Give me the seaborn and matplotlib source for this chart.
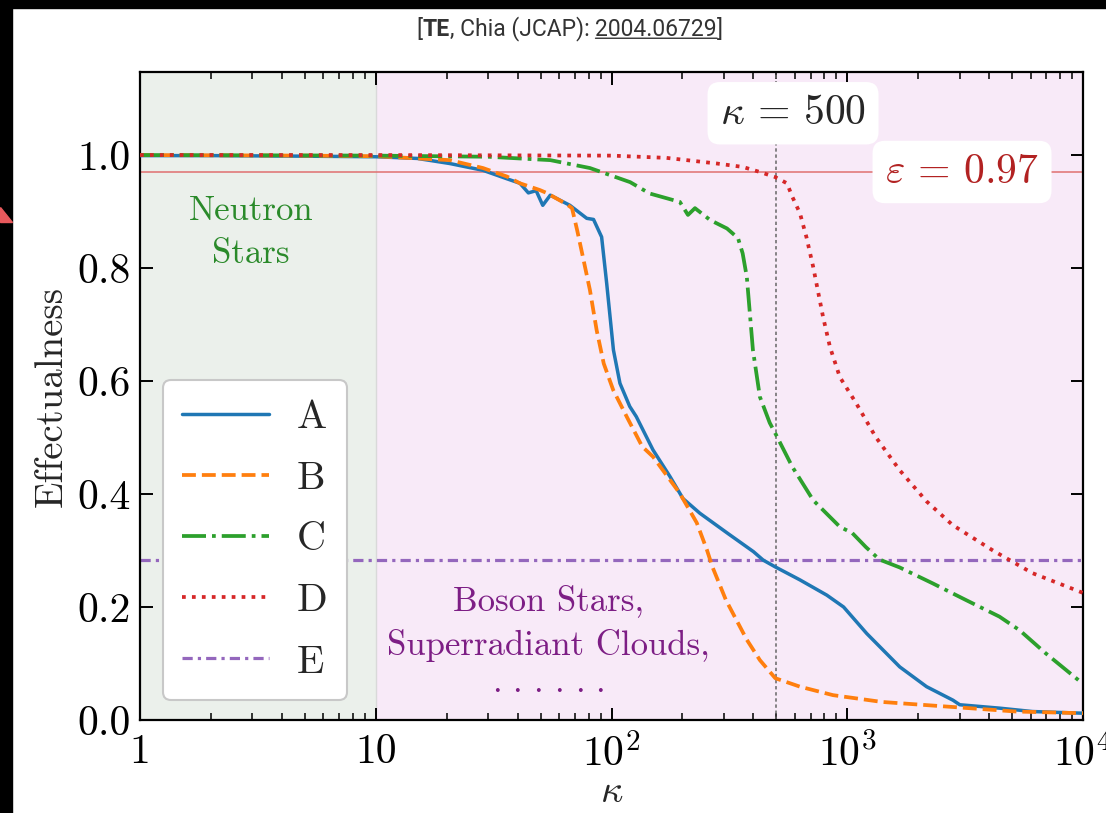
import matplotlib
matplotlib.use("Agg")
import matplotlib.pyplot as plt
import seaborn as sns
from matplotlib.patches import Rectangle, Polygon
from matplotlib.ticker import LogLocator, NullFormatter, FixedLocator, FixedFormatter

# ---- data -----------------------------------------------------------------
A_k = [1, 2, 5, 10, 15, 20.6, 28.5, 36, 40.9, 44.4, 47.9, 51.1, 55, 66.6, 78.5,
       83.9, 90.8, 95.4, 101.9, 108.6, 119.5, 127.4, 150, 177, 201, 237, 312,
       400, 440, 495, 630, 819, 965, 1210, 1670, 2170, 2810, 3000, 4420, 6100, 10000]
A_eff = [0.999, 0.999, 0.998, 0.997, 0.994, 0.985, 0.973, 0.958, 0.950, 0.933, 0.937,
         0.911, 0.929, 0.911, 0.888, 0.886, 0.855, 0.773, 0.655, 0.596, 0.555, 0.537,
         0.478, 0.431, 0.392, 0.366, 0.330, 0.298, 0.283, 0.271, 0.248, 0.221, 0.200,
         0.153, 0.094, 0.059, 0.035, 0.027, 0.021, 0.015, 0.012]

B_k = [1, 5, 10, 20.6, 28.5, 36, 40.9, 49.7, 53, 64.5, 68, 71.5, 75.6, 81, 86.5,
       92.7, 101.7, 116, 135, 150, 195, 230, 254, 268, 306, 375, 426, 495, 630,
       870, 1400, 2810, 5200, 10000]
B_eff = [1.0, 0.999, 0.998, 0.991, 0.977, 0.962, 0.950, 0.938, 0.933, 0.913, 0.906,
         0.867, 0.820, 0.761, 0.690, 0.631, 0.584, 0.537, 0.484, 0.466, 0.401, 0.349,
         0.301, 0.271, 0.212, 0.142, 0.106, 0.074, 0.059, 0.044, 0.032, 0.023, 0.015,
         0.012]

C_k = [1, 10, 30, 55, 81, 120, 145, 195, 211, 226, 262, 309, 344, 360, 375, 398,
       426, 469, 500, 585, 717, 930, 1050, 1200, 1370, 1670, 2300, 3200, 4420, 5380,
       6950, 10000]
C_eff = [1.0, 0.999, 0.997, 0.991, 0.977, 0.952, 0.932, 0.917, 0.894, 0.906, 0.885,
         0.870, 0.853, 0.826, 0.784, 0.655, 0.572, 0.526, 0.504, 0.448, 0.389, 0.342,
         0.331, 0.306, 0.284, 0.270, 0.242, 0.212, 0.183, 0.159, 0.118, 0.064]

D_k = [1, 10, 100, 171, 280, 360, 426, 495, 555, 585, 630, 671, 717, 740, 790, 845,
       930, 1090, 1320, 1670, 2170, 2800, 4150, 6100, 10000]
D_eff = [1.0, 1.0, 0.999, 0.995, 0.985, 0.979, 0.970, 0.961, 0.950, 0.926, 0.897,
         0.855, 0.802, 0.773, 0.713, 0.660, 0.607, 0.561, 0.501, 0.442, 0.387, 0.345,
         0.300, 0.260, 0.225]

E_level = 0.283
eps_threshold = 0.97
kappa_mark = 500

series_labels = ["A", "B", "C", "D", "E"]
x_tick_values = [1, 10, 100, 1000, 10000]
x_tick_labels = ["1", "10", "$10^2$", "$10^3$", "$10^4$"]
y_tick_values = [0.0, 0.2, 0.4, 0.6, 0.8, 1.0]
y_tick_labels = ["0.0", "0.2", "0.4", "0.6", "0.8", "1.0"]

# ---- style ----------------------------------------------------------------
sns.set_theme(style="ticks")
plt.rcParams.update({
    "font.family": "serif",
    "font.serif": ["cmr10"],
    "mathtext.fontset": "cm",
    "axes.formatter.use_mathtext": True,
    "axes.linewidth": 1.6,
    "axes.edgecolor": "black",
    "xtick.direction": "in",
    "ytick.direction": "in",
    "xtick.top": True,
    "ytick.right": True,
    "xtick.color": "black",
    "ytick.color": "black",
})

W, H = 1106, 813
fig = plt.figure(figsize=(W / 100, H / 100), dpi=100)
fig.patch.set_facecolor("white")
ax = fig.add_axes([140 / W, 93 / H, 943 / W, 648 / H])
ax.set_xscale("log")

# shaded regions
ax.axvspan(1, 10, color="#ebf0eb", lw=0, zorder=0)
ax.axvspan(10, 1e4, color="#f8eaf8", lw=0, zorder=0)
ax.axvline(10, color="#d9d9d9", lw=1.0, zorder=0.5)

# reference lines
ax.axhline(eps_threshold, color="#e07070", lw=1.1, zorder=1)
ax.axvline(kappa_mark, color="#666666", lw=1.1, ls=(0, (2.2, 1.8)), zorder=1)

sns.lineplot(x=A_k, y=A_eff, ax=ax, color="#1f77b4", lw=2.5, label=series_labels[0], zorder=3)
sns.lineplot(x=B_k, y=B_eff, ax=ax, color="#ff7f0e", lw=2.7, linestyle="--", label=series_labels[1], zorder=3)
sns.lineplot(x=C_k, y=C_eff, ax=ax, color="#2ca02c", lw=2.7, linestyle="-.", label=series_labels[2], zorder=3)
sns.lineplot(x=D_k, y=D_eff, ax=ax, color="#d62728", lw=2.7, linestyle=":", label=series_labels[3], zorder=3)
ax.axhline(E_level, color="#9467bd", lw=2.3, ls=(0, (3.2, 1.6, 1, 1.6)), label=series_labels[4], zorder=2)

ax.set_xlim(1, 1e4)
ax.set_ylim(0, 1.147)

ax.xaxis.set_major_locator(FixedLocator(x_tick_values))
ax.xaxis.set_major_formatter(FixedFormatter(x_tick_labels))
ax.xaxis.set_minor_locator(LogLocator(base=10, subs=range(2, 10), numticks=20))
ax.xaxis.set_minor_formatter(NullFormatter())
ax.yaxis.set_major_locator(FixedLocator(y_tick_values))
ax.yaxis.set_major_formatter(FixedFormatter(y_tick_labels))
ax.tick_params(which="major", length=9, width=1.4, labelsize=30)
ax.tick_params(axis="x", which="major", pad=10)
ax.tick_params(axis="y", which="major", pad=7)
ax.tick_params(which="minor", length=5, width=1.1)
for s in ax.spines.values():
    s.set_linewidth(1.6)

ax.set_xlabel(r"$\kappa$", fontsize=28, labelpad=0)
ax.set_ylabel("Effectualness", fontsize=28, labelpad=5)

# region labels
ax.text(2.96, 0.862, "Neutron\nStars", color="#2a8a2a", fontsize=25,
        ha="center", va="center", multialignment="center", linespacing=1.47, zorder=4)
ax.text(53.8, 0.171, "Boson Stars,\nSuperradiant Clouds,", color="#7d1e85",
        fontsize=25, ha="center", va="center", multialignment="center",
        linespacing=1.47, zorder=4)
ax.text(53.8, 0.05, r"$.\,.\,.\,.\,.\,.$", color="#7d1e85", fontsize=25,
        ha="center", va="baseline", zorder=4)

# annotation boxes
ax.text(589, 1.074, r"$\kappa\,=\,500$", fontsize=30, ha="center", va="center",
        bbox=dict(boxstyle="round,pad=0.3", fc="white", ec="none"), zorder=6)
ax.text(3068, eps_threshold, r"$\varepsilon\,=\,0.97$", color="#b22222", fontsize=30,
        ha="center", va="center",
        bbox=dict(boxstyle="round,pad=0.3", fc="white", ec="none"), zorder=6)

leg = ax.legend(loc="lower left", bbox_to_anchor=(0.024, 0.031), borderaxespad=0,
                fontsize=29, handlelength=2.15, handletextpad=0.7, labelspacing=0.62,
                borderpad=0.48, frameon=True, fancybox=True, framealpha=1,
                edgecolor="#c8c8c8", facecolor="white")
leg.get_frame().set_linewidth(1.5)
leg.set_zorder(7)

# page frame
fig.add_artist(Rectangle((0, 0), 12 / W, 1, transform=fig.transFigure,
                         color="black", zorder=0))
fig.add_artist(Rectangle((0, 1 - 8 / H), 1, 8 / H, transform=fig.transFigure,
                         color="black", zorder=0))
fig.add_artist(Polygon([[0, 1 - 207 / H], [0, 1 - 222 / H], [12 / W, 1 - 222 / H]],
                       closed=True, transform=fig.transFigure, color="#e8595c", zorder=1))

# citation header built from pieces (bold author tag, underlined arXiv id)
title_kw = dict(family="Roboto", fontsize=16.5, color="#333333")
pieces = [("[", "normal"), ("TE", "bold"), (", Chia (JCAP): ", "normal"),
          ("2004.06729", "normal"), ("]", "normal")]
first = fig.text(0.4, 1 - 41 / H, pieces[0][0], ha="left", va="bottom",
                 fontweight=pieces[0][1], **title_kw)
prev = first
arxiv_piece = None
for txt, wt in pieces[1:]:
    t = ax.annotate(txt, xy=(1, 0), xycoords=prev, ha="left", va="bottom",
                    fontweight=wt, annotation_clip=False, **title_kw)
    if txt == "2004.06729":
        arxiv_piece = t
    prev = t
ax.annotate("", xy=(0, 0.12), xycoords=arxiv_piece, xytext=(1, 0.12),
            textcoords=arxiv_piece, annotation_clip=False,
            arrowprops=dict(arrowstyle="-", color="#333333", lw=1.0,
                            shrinkA=0, shrinkB=0))

fig.canvas.draw()
x0 = first.get_window_extent().x0
x1 = prev.get_window_extent().x1
first.set_x((570 - (x1 - x0) / 2) / W)

fig.savefig("out.png", dpi=100, facecolor="white")
